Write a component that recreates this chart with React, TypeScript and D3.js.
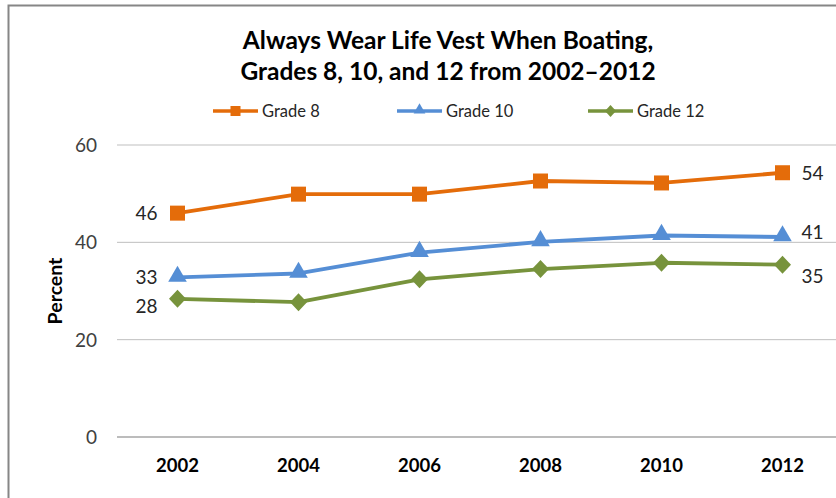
import React from 'react'
import * as d3 from 'd3'

const years = ['2002', '2004', '2006', '2008', '2010', '2012']
const grade8 = [46, 49.9, 49.9, 52.6, 52.2, 54.3]
const grade10 = [32.8, 33.6, 37.9, 40.1, 41.4, 41.1]
const grade12 = [28.4, 27.7, 32.4, 34.5, 35.8, 35.4]
const yTicks = [0, 20, 40, 60]

const seriesNames = ['Grade 8', 'Grade 10', 'Grade 12']
const seriesColors = ['#E46C0A', '#558ED5', '#77933C']

const W = 836
const H = 498
const FONT = 'Lato, "Open Sans", sans-serif'

const App = () => {
    const x = d3.scaleBand().domain(years).range([117, 843])
    const y = d3.scaleLinear().domain([0, 60]).range([437, 145])
    const cx = (d: string) => (x(d) as number) + x.bandwidth() / 2

    const series = [grade8, grade10, grade12]
    const line = d3.line<number>()
        .x((d, i) => cx(years[i]))
        .y(d => y(d))

    const marker = (k: number, px: number, py: number, key: string) => {
        const c = seriesColors[k]
        if (k === 0) return <rect key={key} x={px - 7.5} y={py - 7.5} width={15} height={15} fill={c} />
        if (k === 1) return <path key={key} d={d3.symbol(d3.symbolTriangle, 150)()!} transform={`translate(${px},${py - 1})`} fill={c} />
        return <path key={key} d={`M0,-9L8.5,0L0,9L-8.5,0Z`} transform={`translate(${px},${py})`} fill={c} />
    }

    const legendX = [213, 397, 588]
    const legendY = 111

    // first/last point labels
    const leftLabelDy = [0, 0, 7]
    const rightLabelDy = [0, -5, 11]

    return (
        <div style={{ position: 'absolute', left: 0, top: 0 }}>
            <svg width={W} height={H} style={{ display: 'block', background: '#fff' }} fontFamily={FONT}>
                <path d={`M8.5,${H}V5.5H${W}`} fill="none" stroke="#868686" strokeWidth={2} />

                <text x={448} y={49} textAnchor="middle" fontSize={24.5} fontWeight="bold" fill="#000">Always Wear Life Vest When Boating,</text>
                <text x={448} y={80} textAnchor="middle" fontSize={24.5} fontWeight="bold" fill="#000">Grades 8, 10, and 12 from 2002–2012</text>

                {seriesNames.map((n, k) => (
                    <g key={n}>
                        <line x1={legendX[k]} x2={legendX[k] + 45} y1={legendY} y2={legendY} stroke={seriesColors[k]} strokeWidth={3.5} />
                        {k === 0 && <rect x={legendX[k] + 22.5 - 5} y={legendY - 5} width={10} height={10} fill={seriesColors[k]} />}
                        {k === 1 && <path d={d3.symbol(d3.symbolTriangle, 60)()!} transform={`translate(${legendX[k] + 22.5},${legendY - 1})`} fill={seriesColors[k]} />}
                        {k === 2 && <path d="M0,-6L5.5,0L0,6L-5.5,0Z" transform={`translate(${legendX[k] + 22.5},${legendY})`} fill={seriesColors[k]} />}
                        <text x={legendX[k] + 49} y={legendY + 6} fontSize={16.5} fill="#262626">{n}</text>
                    </g>
                ))}

                {yTicks.map(t => (
                    <g key={t}>
                        <line x1={117} x2={W} y1={y(t)} y2={y(t)} stroke={t === 0 ? '#A6A6A6' : '#BFBFBF'} strokeWidth={t === 0 ? 1.5 : 1} />
                        <text x={97} y={y(t) + 7} textAnchor="end" fontSize={19} fill="#404040">{t}</text>
                    </g>
                ))}

                <text transform={`translate(62,291) rotate(-90)`} textAnchor="middle" fontSize={19.5} fontWeight="bold" fill="#000">Percent</text>

                {years.map(yr => (
                    <text key={yr} x={cx(yr)} y={472} textAnchor="middle" fontSize={18.5} fontWeight="bold" fill="#000">{yr}</text>
                ))}

                {series.map((s, k) => (
                    <g key={k}>
                        <path d={line(s)!} fill="none" stroke={seriesColors[k]} strokeWidth={3.8} strokeLinejoin="round" />
                        {s.map((v, i) => marker(k, cx(years[i]), y(v), `${k}-${i}`))}
                        <text x={cx(years[0]) - 20} y={y(s[0]) + 7 + leftLabelDy[k]} textAnchor="end" fontSize={19} fill="#262626">{Math.round(s[0])}</text>
                        <text x={cx(years[5]) + 19} y={y(s[5]) + 7 + rightLabelDy[k]} fontSize={19} fill="#262626">{Math.round(s[5])}</text>
                    </g>
                ))}
            </svg>
        </div>
    )
}

export default App
